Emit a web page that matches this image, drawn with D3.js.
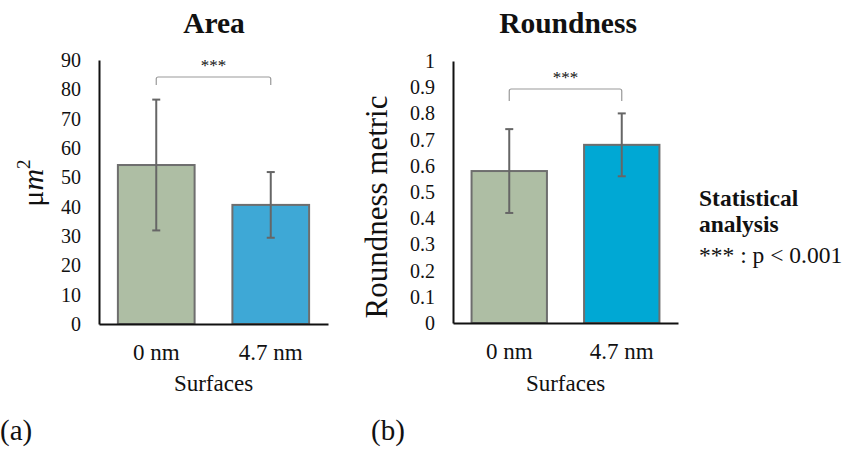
<!DOCTYPE html>
<html lang="en">
<head>
<meta charset="utf-8">
<title>Area and Roundness</title>
<script src="https://cdn.jsdelivr.net/npm/d3@7"></script>
<style>
  body { margin: 0; background: #fff; }
  text { font-family: "Liberation Serif", "Times New Roman", serif; fill: #111; }
</style>
</head>
<body>
<script>
// data
var categories = ["0 nm", "4.7 nm"];
var areaMeans = [54.2, 40.6];
var areaErr = [22.3, 11.2];
var roundMeans = [0.58, 0.68];
var roundErr = [0.16, 0.12];
var areaTicks = [0, 10, 20, 30, 40, 50, 60, 70, 80, 90];
var roundTicks = [0, 0.1, 0.2, 0.3, 0.4, 0.5, 0.6, 0.7, 0.8, 0.9, 1];

var w = 845, h = 452;
var svg = d3.select("body").append("svg")
  .attr("width", w)
  .attr("height", h);

function panel(cfg) {
  var x = d3.scaleBand()
    .domain(categories)
    .range([cfg.x0, cfg.x1])
    .paddingInner(0.33)
    .paddingOuter(0.165);
  var y = d3.scaleLinear()
    .domain([0, cfg.max])
    .range([cfg.y0, cfg.y1]);

  var g = svg.append("g");

  // bars
  g.selectAll("rect.bar")
    .data(cfg.means)
    .enter().append("rect")
    .attr("class", "bar")
    .attr("x", function(d, i) { return x(categories[i]); })
    .attr("y", function(d) { return y(d); })
    .attr("width", x.bandwidth())
    .attr("height", function(d) { return y(0) - y(d); })
    .attr("fill", function(d, i) { return cfg.colors[i]; })
    .attr("stroke", "#6e6e6e")
    .attr("stroke-width", 2);

  // error bars
  var eb = g.selectAll("g.err")
    .data(cfg.means)
    .enter().append("g")
    .attr("class", "err")
    .attr("stroke", "#666")
    .attr("stroke-width", 2);
  eb.append("line")
    .attr("x1", function(d, i) { return x(categories[i]) + x.bandwidth() / 2; })
    .attr("x2", function(d, i) { return x(categories[i]) + x.bandwidth() / 2; })
    .attr("y1", function(d, i) { return y(d + cfg.err[i]); })
    .attr("y2", function(d, i) { return y(d - cfg.err[i]); });
  [1, -1].forEach(function(s) {
    eb.append("line")
      .attr("x1", function(d, i) { return x(categories[i]) + x.bandwidth() / 2 - 4; })
      .attr("x2", function(d, i) { return x(categories[i]) + x.bandwidth() / 2 + 4; })
      .attr("y1", function(d, i) { return y(d + s * cfg.err[i]); })
      .attr("y2", function(d, i) { return y(d + s * cfg.err[i]); });
  });

  // axes
  var ya = d3.axisLeft(y)
    .tickValues(cfg.ticks)
    .tickSize(0)
    .tickPadding(18)
    .tickFormat(function(d) { return String(d); });
  var yg = g.append("g").attr("transform", "translate(" + cfg.x0 + ",0)").call(ya);
  yg.select(".domain").attr("stroke", "#111").attr("stroke-width", 2);
  yg.selectAll("text")
    .attr("font-family", "Liberation Serif, serif")
    .attr("font-size", 20)
    .attr("fill", "#222");

  var xa = d3.axisBottom(x).tickSize(0).tickPadding(20);
  var xg = g.append("g").attr("transform", "translate(0," + cfg.y0 + ")").call(xa);
  xg.select(".domain").attr("stroke", "#111").attr("stroke-width", 2);
  xg.selectAll("text")
    .attr("font-family", "Liberation Serif, serif")
    .attr("font-size", 23)
    .attr("fill", "#222");

  // significance bracket
  var bx1 = x(categories[0]) + x.bandwidth() / 2;
  var bx2 = x(categories[1]) + x.bandwidth() / 2;
  g.append("path")
    .attr("d", "M" + bx1 + "," + cfg.brB + "V" + (cfg.brT + 2) + "Q" + bx1 + "," + cfg.brT + " " + (bx1 + 2) + "," + cfg.brT +
               "H" + (bx2 - 2) + "Q" + bx2 + "," + cfg.brT + " " + bx2 + "," + (cfg.brT + 2) + "V" + cfg.brB)
    .attr("fill", "none")
    .attr("stroke", "#999")
    .attr("stroke-width", 1.2);
  g.append("text")
    .attr("x", (bx1 + bx2) / 2)
    .attr("y", cfg.brT - 6)
    .attr("text-anchor", "middle")
    .attr("font-size", 17)
    .attr("fill", "#333")
    .text("***");

  // title
  g.append("text")
    .attr("x", cfg.titleX)
    .attr("y", 33)
    .attr("text-anchor", "middle")
    .attr("font-size", 29.5)
    .attr("font-weight", "bold")
    .text(cfg.title);

  // x title
  g.append("text")
    .attr("x", (cfg.x0 + cfg.x1) / 2)
    .attr("y", 391)
    .attr("text-anchor", "middle")
    .attr("font-size", 23)
    .attr("fill", "#222")
    .text("Surfaces");

  return g;
}

var ga = panel({
  x0: 99, x1: 328, y0: 324, y1: 60, max: 90,
  means: areaMeans, err: areaErr, ticks: areaTicks,
  colors: ["#aebea4", "#3ea8d6"],
  brT: 77, brB: 85, titleX: 214, title: "Area"
});

var gb = panel({
  x0: 453, x1: 678, y0: 323, y1: 61, max: 1,
  means: roundMeans, err: roundErr, ticks: roundTicks,
  colors: ["#aebea4", "#00a8d4"],
  brT: 89, brB: 101, titleX: 568, title: "Roundness"
});

// y titles
var yt = svg.append("text")
  .attr("transform", "translate(43,183) rotate(-90)")
  .attr("text-anchor", "middle")
  .attr("font-size", 30);
yt.append("tspan").text("\u03bc");
yt.append("tspan").attr("font-style", "italic").text("m");
yt.append("tspan").attr("font-size", 19).attr("dy", -13).text("2");

svg.append("text")
  .attr("transform", "translate(387,207) rotate(-90)")
  .attr("text-anchor", "middle")
  .attr("font-size", 31)
  .text("Roundness metric");

// legend note
svg.append("text").attr("x", 699).attr("y", 206)
  .attr("font-size", 23.5).attr("font-weight", "bold").text("Statistical");
svg.append("text").attr("x", 699).attr("y", 232)
  .attr("font-size", 23.5).attr("font-weight", "bold").text("analysis");
svg.append("text").attr("x", 699).attr("y", 263)
  .attr("font-size", 23.5).text("*** : p < 0.001");

// panel letters
svg.append("text").attr("x", 0).attr("y", 440).attr("font-size", 29).text("(a)");
svg.append("text").attr("x", 371).attr("y", 440).attr("font-size", 29).text("(b)");
</script>
</body>
</html>
